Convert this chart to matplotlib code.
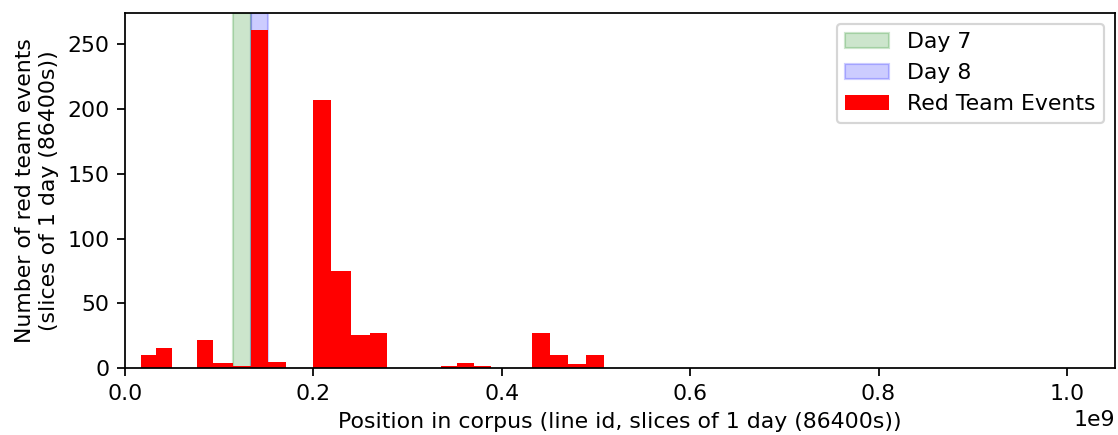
import matplotlib
matplotlib.use("Agg")
import matplotlib.pyplot as plt
import numpy as np

# Day-slice bin edges (line id) and red team event counts per slice
segments = [
    # (edges, counts) for contiguous runs of slices with events
    ([0.0166e9, 0.0329e9, 0.0496e9], [10, 16]),
    ([0.0761e9, 0.0938e9, 0.1143e9, 0.1338e9, 0.1522e9, 0.1706e9], [22, 4, 2, 261, 5]),
    ([0.1993e9, 0.2184e9, 0.2400e9, 0.2602e9, 0.2779e9], [207, 75, 26, 27]),
    ([0.3352e9, 0.3529e9, 0.3706e9, 0.3890e9], [1.5, 4, 1.8]),
    ([0.4325e9, 0.4513e9, 0.4701e9, 0.4895e9, 0.5087e9], [27, 10, 3, 10]),
]
day7 = (0.1143e9, 0.1338e9)
day8 = (0.1338e9, 0.1522e9)

DPI = 158
fig = plt.figure(figsize=(1118 / DPI, 435 / DPI), dpi=DPI)
ax = fig.add_axes([0.1118, 0.1533, 0.9973 - 0.1118, 0.9708 - 0.1533])

ax.axvspan(day7[0], day7[1], color="g", alpha=0.2, label="Day 7")
ax.axvspan(day8[0], day8[1], color="b", alpha=0.2, label="Day 8")

for i, (edges, counts) in enumerate(segments):
    edges = np.array(edges)
    ax.bar(edges[:-1], counts, width=np.diff(edges), align="edge", color="r",
           linewidth=0, label="Red Team Events" if i == 0 else None)

ax.set_xlim(0, 1.051e9)
ax.set_ylim(0, 274)
ax.set_xlabel("Position in corpus (line id, slices of 1 day (86400s))")
ax.set_ylabel("Number of red team events\n(slices of 1 day (86400s))")
ax.legend(loc="upper right")

fig.savefig("out.png", dpi=DPI)
